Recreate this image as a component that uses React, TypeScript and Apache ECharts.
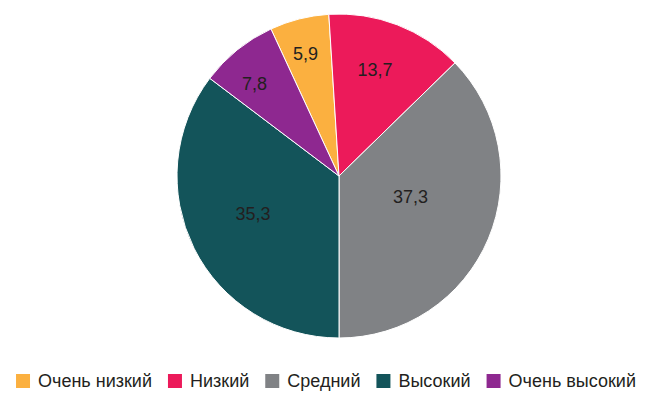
import React, { useEffect, useRef } from "react";
import * as echarts from "echarts";

const categories = ["Очень низкий", "Низкий", "Средний", "Высокий", "Очень высокий"];
const values = [5.9, 13.7, 37.3, 35.3, 7.8];
const colors = ["#FBB040", "#EC1A5A", "#808285", "#13545A", "#8E2890"];
// label placement styling: fraction of radius and angular nudge (degrees, clockwise) from slice middle
const labelRadius = [0.78, 0.69, 0.46, 0.58, 0.77];
const labelNudge = [-1.2, -2.3, -6.8, 2.7, -3.7];

const CX = 331;
const CY = 168;
const R = 162;
const FONT = "'Liberation Sans', Arial, Helvetica, sans-serif";

export default function App() {
  const ref = useRef<HTMLDivElement>(null);
  useEffect(() => {
    if (!ref.current) return;
    const chart = echarts.init(ref.current, null, { renderer: "svg" });
    const total = values.reduce((a, b) => a + b, 0);
    const degPer = 360 / total;
    // first slice begins so that the boundary between the 2nd and 3rd slices sits ~3.6° left of top
    const startAngle = 90 + 3.6 + values[0] * degPer;
    const cum: number[] = [];
    values.reduce((acc, v, i) => {
      cum[i] = acc;
      return acc + v;
    }, 0);
    chart.setOption({
      animation: false,
      backgroundColor: "#ffffff",
      textStyle: { fontFamily: FONT },
      legend: {
        top: 359,
        left: "center",
        itemWidth: 16,
        itemHeight: 16,
        itemGap: 14,
        icon: "rect",
        data: categories,
        textStyle: {
          fontSize: 18,
          color: "#231F20",
          fontFamily: FONT,
          padding: [0, 0, 0, 2],
        },
      },
      series: [
        {
          type: "pie",
          center: [CX, CY],
          radius: [0, R],
          startAngle,
          clockwise: true,
          avoidLabelOverlap: false,
          itemStyle: { borderColor: "#ffffff", borderWidth: 1 },
          label: {
            show: true,
            position: "inside",
            fontSize: 18,
            color: "#231F20",
            fontFamily: FONT,
            formatter: (p: any) => String(p.value).replace(".", ","),
          },
          labelLine: { show: false },
          labelLayout: (p: any) => {
            const i = p.dataIndex;
            const midDeg = startAngle - (cum[i] + values[i] / 2) * degPer - labelNudge[i];
            const a = (midDeg * Math.PI) / 180;
            const r = labelRadius[i] * R;
            return {
              x: CX + r * Math.cos(a),
              y: CY - r * Math.sin(a),
              align: "center",
              verticalAlign: "middle",
            };
          },
          emphasis: { disabled: true },
          data: categories.map((name, i) => ({
            name,
            value: values[i],
            itemStyle: { color: colors[i] },
          })),
        },
      ],
    });
    return () => chart.dispose();
  }, []);
  return <div ref={ref} style={{ width: 634, height: 387 }} />;
}
